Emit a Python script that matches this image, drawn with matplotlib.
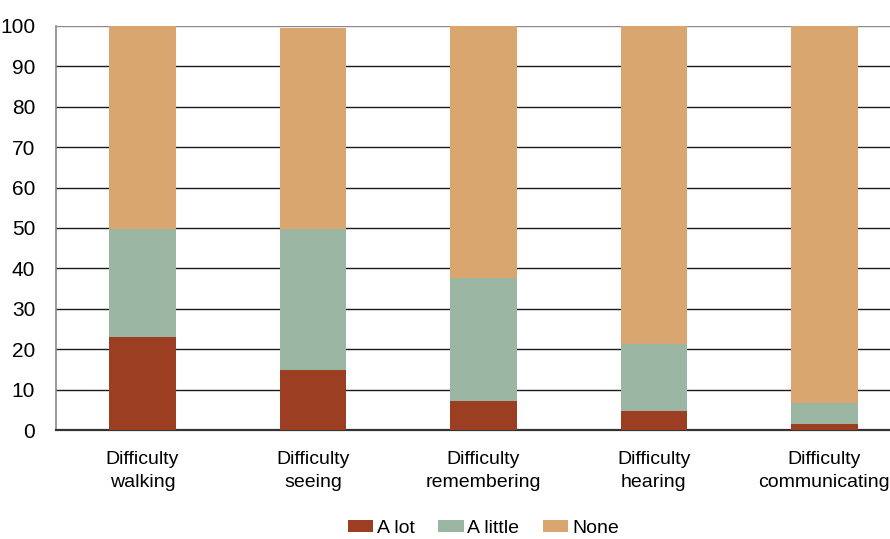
import matplotlib
matplotlib.use("Agg")
import matplotlib.pyplot as plt
import numpy as np

plt.rcParams["font.family"] = ["Liberation Sans", "DejaVu Sans"]

categories = [
    "Difficulty\nwalking",
    "Difficulty\nseeing",
    "Difficulty\nremembering",
    "Difficulty\nhearing",
    "Difficulty\ncommunicating",
]
a_lot = [23.0, 14.9, 7.3, 4.8, 1.6]
a_little = [26.7, 34.8, 30.4, 16.4, 5.0]
none = [50.3, 49.7, 62.3, 78.8, 93.4]
y_ticks = [0, 10, 20, 30, 40, 50, 60, 70, 80, 90, 100]

colors = {"A lot": "#9c3e22", "A little": "#9bb7a4", "None": "#d8a66e"}

fig = plt.figure(figsize=(8.9, 5.39), dpi=100)
ax = fig.add_axes([0.063, 0.202, 0.937, 0.750])

x = np.arange(len(categories))
w = 0.39
lot = np.array(a_lot)
little = np.array(a_little)
ax.bar(x, lot, width=w, color=colors["A lot"], label="A lot", zorder=3)
ax.bar(x, little, width=w, bottom=lot, color=colors["A little"], label="A little", zorder=3)
ax.bar(x, none, width=w, bottom=lot + little, color=colors["None"], label="None", zorder=3)

ax.set_xlim(-0.507, 4.385)
ax.set_ylim(0, 100)
ax.set_yticks(y_ticks)
ax.yaxis.grid(True, color="#1a1a1a", linewidth=1.0)
ax.set_axisbelow(True)
# top line at 100 is lighter in the original
ax.get_ygridlines()[-1].set_color("#8a8a8a")

ax.set_xticks(x)
ax.set_xticklabels(categories, fontsize=14, linespacing=1.5)
ax.tick_params(axis="x", length=0, pad=15)
ax.tick_params(axis="y", length=0, pad=15, labelsize=15)

for side in ("top", "right"):
    ax.spines[side].set_visible(False)
ax.spines["left"].set_color("#8a8a8a")
ax.spines["left"].set_linewidth(1.2)
ax.spines["bottom"].set_color("#333333")
ax.spines["bottom"].set_linewidth(1.6)

fig.legend(
    loc="center",
    bbox_to_anchor=(0.543, 0.02),
    ncol=3,
    frameon=False,
    fontsize=14,
    handlelength=1.3,
    handleheight=0.62,
    handletextpad=0.2,
    columnspacing=1.2,
)

fig.savefig("out.png", dpi=100)
